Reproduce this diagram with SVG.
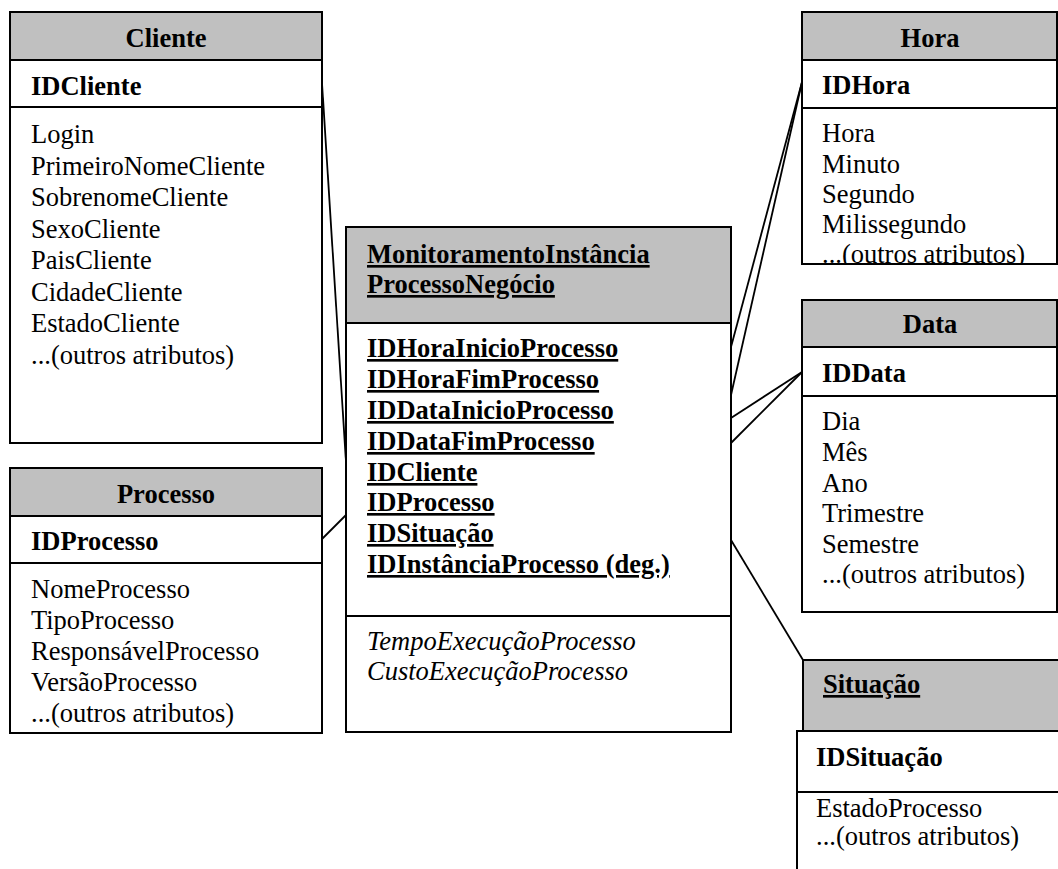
<svg xmlns="http://www.w3.org/2000/svg" width="1058" height="869" viewBox="0 0 1058 869">
  <style>
    .box { fill: #ffffff; stroke: #000000; stroke-width: 2; }
    .hdr { fill: #c0c0c0; stroke: #000000; stroke-width: 2; }
    .sep { stroke: #000000; stroke-width: 2; }
    .conn line { stroke: #000000; stroke-width: 1.8; }
    text { font-family: "Liberation Serif", "Times New Roman", serif; font-size: 26.5px; fill: #000000; }
    .b { font-weight: bold; }
    .c { text-anchor: middle; }
    .u { text-decoration: underline; text-decoration-thickness: 2.5px; text-underline-offset: 3px; }
    .i { font-style: italic; }
  </style>
  <defs>
    <clipPath id="clipHora"><rect x="802" y="108" width="256" height="155"/></clipPath>
    <clipPath id="clipProcesso"><rect x="10" y="563" width="312" height="169"/></clipPath>
  </defs>

  <rect width="1058" height="869" fill="#ffffff"/>

  <!-- connectors -->
  <g id="connectors" class="conn">
    <line x1="322" y1="83" x2="346" y2="462"/>
    <line x1="322" y1="539" x2="346" y2="515"/>
    <line x1="802" y1="82" x2="731" y2="347"/>
    <line x1="802" y1="82" x2="731" y2="395"/>
    <line x1="802" y1="372" x2="731" y2="418"/>
    <line x1="802" y1="372" x2="731" y2="443"/>
    <line x1="731" y1="540" x2="803" y2="660"/>
  </g>

  <!-- Cliente -->
  <g id="cliente">
    <rect class="box" x="10" y="12" width="312" height="431"/>
    <rect class="hdr" x="10" y="12" width="312" height="48"/>
    <line class="sep" x1="10" y1="107" x2="322" y2="107"/>
    <text class="b c" x="166" y="47">Cliente</text>
    <text class="b" x="31" y="95">IDCliente</text>
    <text x="31" y="143">Login</text>
    <text x="31" y="174.5">PrimeiroNomeCliente</text>
    <text x="31" y="206">SobrenomeCliente</text>
    <text x="31" y="237.5">SexoCliente</text>
    <text x="31" y="269">PaisCliente</text>
    <text x="31" y="300.5">CidadeCliente</text>
    <text x="31" y="332">EstadoCliente</text>
    <text x="31" y="363.5">...(outros atributos)</text>
  </g>

  <!-- Processo -->
  <g id="processo">
    <rect class="box" x="10" y="468" width="312" height="265"/>
    <rect class="hdr" x="10" y="468" width="312" height="48"/>
    <line class="sep" x1="10" y1="563" x2="322" y2="563"/>
    <text class="b c" x="166" y="503">Processo</text>
    <text class="b" x="31" y="550">IDProcesso</text>
    <g clip-path="url(#clipProcesso)">
      <text x="31" y="598">NomeProcesso</text>
      <text x="31" y="629">TipoProcesso</text>
      <text x="31" y="660">ResponsávelProcesso</text>
      <text x="31" y="691">VersãoProcesso</text>
      <text x="31" y="722">...(outros atributos)</text>
    </g>
  </g>

  <!-- Fact table -->
  <g id="monitoramento">
    <rect class="box" x="346" y="227" width="385" height="505"/>
    <rect class="hdr" x="346" y="227" width="385" height="96"/>
    <line class="sep" x1="346" y1="616" x2="731" y2="616"/>
    <text class="b u" x="367" y="263">MonitoramentoInstância</text>
    <text class="b u" x="367" y="293">ProcessoNegócio</text>
    <text class="b u" x="367" y="357">IDHoraInicioProcesso</text>
    <text class="b u" x="367" y="388">IDHoraFimProcesso</text>
    <text class="b u" x="367" y="419">IDDataInicioProcesso</text>
    <text class="b u" x="367" y="450">IDDataFimProcesso</text>
    <text class="b u" x="367" y="481">IDCliente</text>
    <text class="b u" x="367" y="511">IDProcesso</text>
    <text class="b u" x="367" y="542">IDSituação</text>
    <text class="b u" x="367" y="573">IDInstânciaProcesso (deg.)</text>
    <text class="i" x="367" y="650">TempoExecuçãoProcesso</text>
    <text class="i" x="367" y="680">CustoExecuçãoProcesso</text>
  </g>

  <!-- Hora -->
  <g id="hora">
    <rect class="box" x="802" y="12" width="255" height="252"/>
    <rect class="hdr" x="802" y="12" width="255" height="48"/>
    <line class="sep" x1="802" y1="108" x2="1057" y2="108"/>
    <text class="b c" x="930" y="47">Hora</text>
    <text class="b" x="822" y="94">IDHora</text>
    <g clip-path="url(#clipHora)">
      <text x="822" y="142">Hora</text>
      <text x="822" y="172.5">Minuto</text>
      <text x="822" y="203">Segundo</text>
      <text x="822" y="233">Milissegundo</text>
      <text x="822" y="263">...(outros atributos)</text>
    </g>
  </g>

  <!-- Data -->
  <g id="data">
    <rect class="box" x="802" y="300" width="255" height="312"/>
    <rect class="hdr" x="802" y="300" width="255" height="47"/>
    <line class="sep" x1="802" y1="396" x2="1057" y2="396"/>
    <text class="b c" x="930" y="333">Data</text>
    <text class="b" x="822" y="382">IDData</text>
    <text x="822" y="430">Dia</text>
    <text x="822" y="461">Mês</text>
    <text x="822" y="492">Ano</text>
    <text x="822" y="522">Trimestre</text>
    <text x="822" y="553">Semestre</text>
    <text x="822" y="583">...(outros atributos)</text>
  </g>

  <!-- Situacao -->
  <g id="situacao">
    <rect class="hdr" x="803" y="660" width="260" height="71"/>
    <rect class="box" x="797" y="731" width="266" height="150"/>
    <line class="sep" x1="797" y1="792" x2="1058" y2="792"/>
    <text class="b u" x="823" y="693">Situação</text>
    <text class="b" x="816" y="766">IDSituação</text>
    <text x="816" y="817">EstadoProcesso</text>
    <text x="816" y="845">...(outros atributos)</text>
  </g>
</svg>
